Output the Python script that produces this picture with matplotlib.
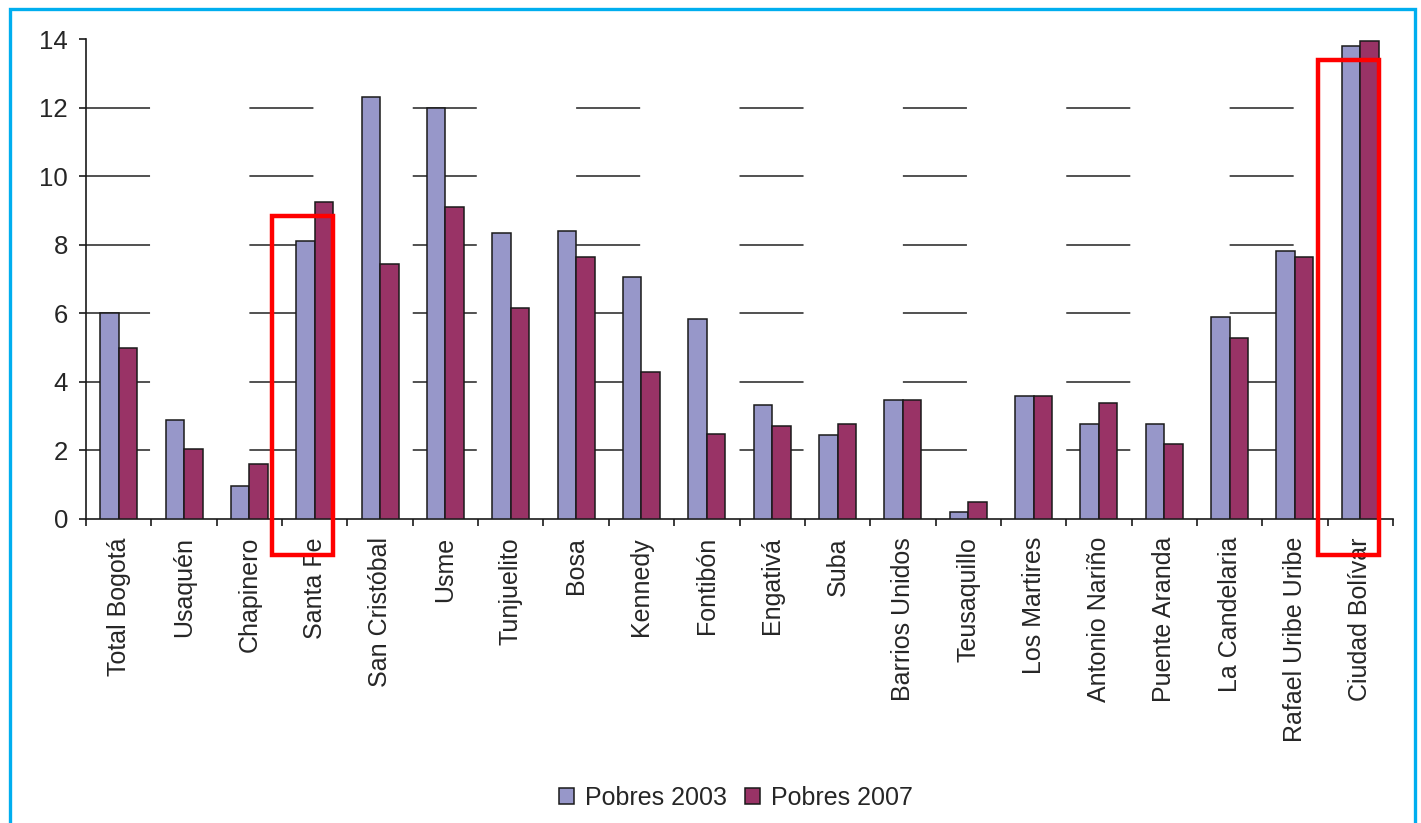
import matplotlib
matplotlib.use("Agg")
import matplotlib.pyplot as plt
from matplotlib.patches import Rectangle
import numpy as np

# * - - - Data (% of population)
localidades = [
    "Total Bogotá", "Usaquén", "Chapinero", "Santa Fe", "San Cristóbal",
    "Usme", "Tunjuelito", "Bosa", "Kennedy", "Fontibón", "Engativá", "Suba",
    "Barrios Unidos", "Teusaquillo", "Los Martires", "Antonio Nariño",
    "Puente Aranda", "La Candelaria", "Rafael Uribe Uribe", "Ciudad Bolívar",
]
pobres_2003 = [6.0, 2.9, 0.96, 8.1, 12.3, 12.0, 8.34, 8.4, 7.06, 5.83,
               3.33, 2.44, 3.46, 0.2, 3.6, 2.76, 2.76, 5.88, 7.82, 13.8]
pobres_2007 = [4.98, 2.04, 1.6, 9.24, 7.44, 9.1, 6.16, 7.64, 4.28, 2.48,
               2.71, 2.76, 3.46, 0.5, 3.6, 3.37, 2.2, 5.27, 7.64, 13.95]
series_labels = ["Pobres 2003", "Pobres 2007"]
y_ticks = [0, 2, 4, 6, 8, 10, 12, 14]

# * - - - Highlighted localidades (red boxes) and the top of each box
highlight = {"Santa Fe": 8.85, "Ciudad Bolívar": 13.4}

# * - - - Style
plt.rcParams["font.family"] = ["Liberation Sans", "DejaVu Sans"]
plt.rcParams["lines.scale_dashes"] = False
text_color = "#262626"
c2003 = "#9797c9"
c2007 = "#993366"
W, H, DPI = 1421, 823, 100

fig = plt.figure(figsize=(W / DPI, H / DPI), dpi=DPI)
ax = fig.add_axes([86 / W, 1 - 519 / H, (1393 - 86) / W, (519 - 39) / H])

x = np.arange(len(localidades))
bw = 0.283
ax.bar(x - bw / 2, pobres_2003, bw, color=c2003, edgecolor="#1a1a1a",
       linewidth=1.1, label=series_labels[0], zorder=3)
ax.bar(x + bw / 2, pobres_2007, bw, color=c2007, edgecolor="#1a1a1a",
       linewidth=1.1, label=series_labels[1], zorder=3)

ax.set_xlim(-0.5, len(localidades) - 0.5)
ax.set_ylim(0, 14)

# * - - - Broken gridlines (one category on, 1.5 off)
cat_pt = (1393 - 86) / len(localidades) * 72 / DPI
ax.hlines(y_ticks[1:-1], -0.5, len(localidades) - 0.5, colors="#333333",
          linewidth=1.2, linestyles=[(0, (cat_pt * 0.98, 1.52 * cat_pt))],
          zorder=1)

# * - - - Axes, ticks
for s in ["top", "right"]:
    ax.spines[s].set_visible(False)
for s in ["left", "bottom"]:
    ax.spines[s].set_color("#1a1a1a")
    ax.spines[s].set_linewidth(1.2)

ax.set_yticks(y_ticks)
ax.tick_params(axis="y", length=5, width=1.2, color="#1a1a1a",
               labelsize=18.5, labelcolor=text_color, pad=8)
ax.set_xticks(x)
ax.set_xticklabels(localidades, rotation=90, va="top", ha="center")
ax.tick_params(axis="x", length=0, labelsize=18, labelcolor=text_color, pad=13)
ax.set_xticks(np.arange(len(localidades) + 1) - 0.5, minor=True)
ax.tick_params(axis="x", which="minor", length=5, width=1.2, color="#1a1a1a")

# * - - - Red boxes
for name, top in highlight.items():
    i = localidades.index(name)
    ax.add_patch(Rectangle((i - 0.65, -1.05), 0.93, top + 1.05, fill=False,
                           edgecolor="#ff0000", linewidth=3.2, clip_on=False,
                           zorder=5))

# * - - - Legend
fig.legend(loc="center", bbox_to_anchor=(0.518, 1 - 798 / H), ncol=2,
           frameon=False, fontsize=18, handlelength=0.6, handleheight=0.6,
           handletextpad=0.45, columnspacing=0.7, labelcolor=text_color)

# * - - - Blue frame round the picture
fig.patches.append(Rectangle((9.5 / W, -0.1), (1414.5 - 9.5) / W,
                             1.1 - 9.5 / H, transform=fig.transFigure,
                             fill=False, edgecolor="#00aeef", linewidth=2.4))

fig.savefig("out.png", dpi=DPI)
